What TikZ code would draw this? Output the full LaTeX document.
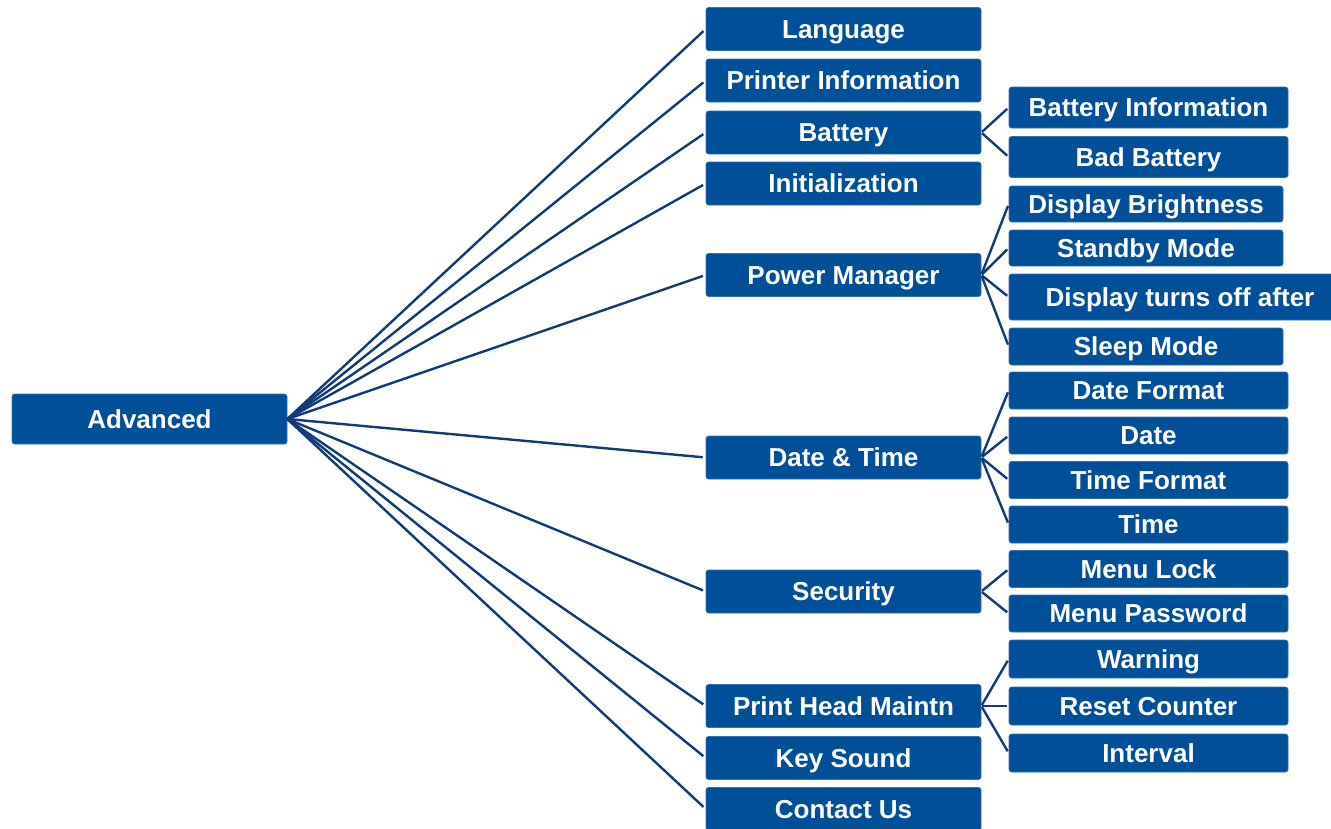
\documentclass[tikz,border=0pt]{standalone}
\usepackage{fontspec}
\setmainfont{Liberation Sans}
\definecolor{boxblue}{RGB}{0,79,153}
\definecolor{lineblue}{RGB}{18,58,118}
\begin{document}
\begin{tikzpicture}[x=1pt,y=-1pt,
  box/.style={fill=boxblue, draw=boxblue!80!white, line width=0.6pt, rounded corners=2.5pt, text=white,
    font=\fontsize{26}{30}\selectfont\bfseries, inner sep=0pt, align=center,
    text height=18.6pt, text depth=0pt},
  mid/.style={box, minimum width=275pt, minimum height=43pt},
  rgt/.style={box, minimum width=279pt, minimum height=37pt},
  conn/.style={draw=lineblue, line width=2.4pt},
]
\useasboundingbox (0,0) rectangle (1331,828);
% root
\node[box, minimum width=275pt, minimum height=50pt] (adv) at (149.5,419) {Advanced};
% middle column
\node[mid] (lang) at (843.5,29) {Language};
\node[mid] (pinfo) at (843.5,80.5) {Printer Information};
\node[mid] (batt) at (843.5,132.5) {Battery};
\node[mid] (init) at (843.5,183.5) {Initialization};
\node[mid] (pm) at (843.5,275) {Power Manager};
\node[mid] (dt) at (843.5,457.5) {Date \& Time};
\node[mid] (sec) at (843.5,591.5) {Security};
\node[mid] (phm) at (843.5,706) {Print Head Maintn};
\node[mid] (ks) at (843.5,758) {Key Sound};
\node[mid] (cu) at (843.5,809) {Contact Us};
% right column
\node[rgt, minimum height=41pt] (binfo) at (1148.5,107.5) {Battery Information};
\node[rgt, minimum height=41pt] (bbad) at (1148.5,157) {Bad Battery};
\node[rgt, minimum width=274pt, minimum height=36pt] (dbr) at (1146,204) {Display Brightness};
\node[rgt, minimum width=274pt, minimum height=36pt] (sbm) at (1146,248) {Standby Mode};
\node[rgt, minimum width=342pt, minimum height=46pt] (dto) at (1180,297) {Display turns off after};
\node[rgt, minimum width=274pt] (slm) at (1146,346.5) {Sleep Mode};
\node[rgt] (dfmt) at (1148.5,390.5) {Date Format};
\node[rgt] (date) at (1148.5,435.5) {Date};
\node[rgt] (tfmt) at (1148.5,480) {Time Format};
\node[rgt] (time) at (1148.5,524.5) {Time};
\node[rgt] (mlock) at (1148.5,569) {Menu Lock};
\node[rgt] (mpw) at (1148.5,613.5) {Menu Password};
\node[rgt, minimum height=38pt] (warn) at (1148.5,659) {Warning};
\node[rgt, minimum height=38pt] (rc) at (1148.5,706) {Reset Counter};
\node[rgt, minimum height=38pt] (intv) at (1148.5,753) {Interval};
% connectors root -> middle
\foreach \n in {lang,pinfo,batt,init,pm,dt,sec,phm,ks,cu}
  \draw[conn, shorten >=3pt] (adv.east) -- (\n.west);
% middle -> right
\foreach \p/\c in {batt/binfo,batt/bbad,pm/dbr,pm/sbm,pm/dto,pm/slm,dt/dfmt,dt/date,dt/tfmt,dt/time,sec/mlock,sec/mpw,phm/warn,phm/rc,phm/intv}
  \draw[conn, shorten >=2pt, shorten <=1pt] (\p.east) -- (\c.west);
\end{tikzpicture}
\end{document}
